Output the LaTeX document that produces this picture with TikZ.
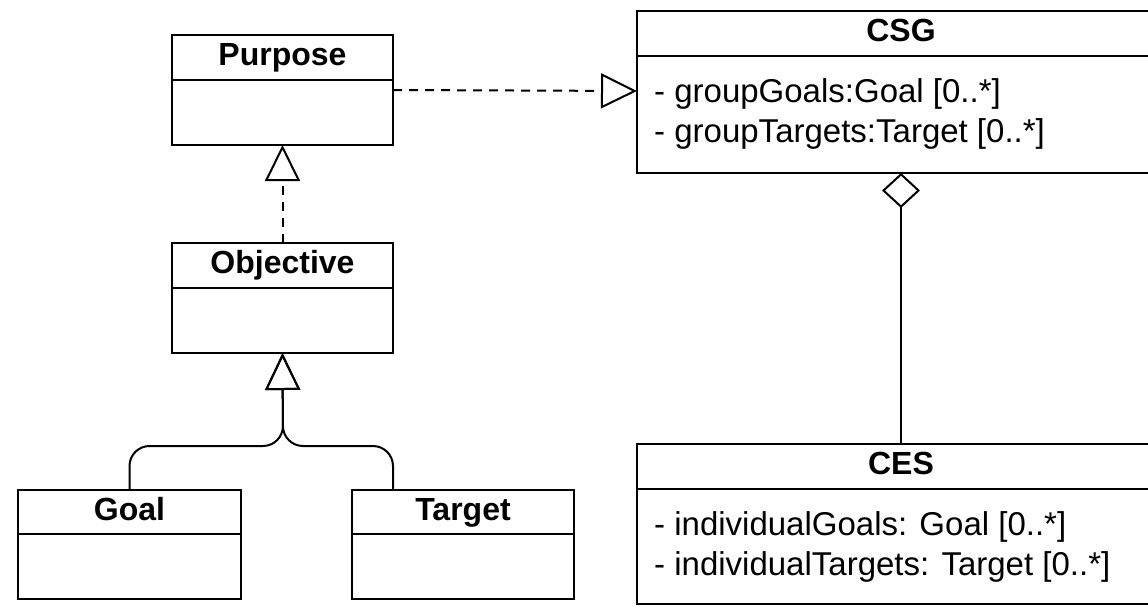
\documentclass[tikz,border=0pt]{standalone}
\usepackage{fontspec}
\setmainfont{Liberation Sans}
\usetikzlibrary{positioning,arrows.meta}

\tikzset{
    classhead/.style = {draw, line width=2pt, anchor=north west, inner sep=0pt, outer sep=0pt, minimum height=45pt,
        font=\fontsize{32}{38}\selectfont\bfseries, text height=23pt, text depth=7pt},
    classbody/.style = {draw, line width=2pt, inner sep=0pt, outer sep=0pt, below=0pt of #1},
    attr/.style = {anchor=base west, inner sep=0pt, font=\fontsize{33}{40}\selectfont},
    realize/.style = {line width=2pt, dash pattern=on 9pt off 7pt, -{Triangle[open, length=36pt, width=35pt]}},
    inherit/.style = {line width=2pt, rounded corners=20pt, -{Triangle[open, length=37pt, width=35pt]}},
    aggregate/.style = {line width=2pt, {Diamond[open, length=35pt, width=38pt]}-},
}

\begin{document}
\begin{tikzpicture}[x = 1pt, y = -1pt]
    \useasboundingbox (0,0) rectangle (1148,606);
    \clip (0,0) rectangle (1148,606);

    % classes on the left
    \node[classhead, minimum width=221pt] (purpose) at (172,35) {Purpose};
    \node[classbody=purpose, minimum width=221pt, minimum height=65pt] (purpose-body) {};
    \node[classhead, minimum width=221pt] (objective) at (172,243) {Objective};
    \node[classbody=objective, minimum width=221pt, minimum height=65pt] (objective-body) {};
    \node[classhead, minimum width=223pt, minimum height=44pt] (goal) at (18,490) {Goal};
    \node[classbody=goal, minimum width=223pt, minimum height=65pt] (goal-body) {};
    \node[classhead, minimum width=222pt, minimum height=44pt] (target) at (352,490) {Target};
    \node[classbody=target, minimum width=222pt, minimum height=65pt] (target-body) {};

    % classes on the right
    \node[classhead, minimum width=528pt] (csg) at (637,11) {CSG};
    \node[classbody=csg, minimum width=528pt, minimum height=117pt] (csg-body) {};
    \node[attr] (csg-attr1) at ([xshift=17pt, yshift=-46pt]csg-body.north west) {- groupGoals:Goal [0..*]};
    \node[attr] (csg-attr2) at ([xshift=17pt, yshift=-86pt]csg-body.north west) {- groupTargets:Target [0..*]};
    \node[classhead, minimum width=528pt] (ces) at (637,444) {CES};
    \node[classbody=ces, minimum width=528pt, minimum height=115pt] (ces-body) {};
    \node[attr] (ces-attr1) at ([xshift=17pt, yshift=-46pt]ces-body.north west) {- individualGoals: Goal [0..*]};
    \node[attr] (ces-attr2) at ([xshift=17pt, yshift=-86pt]ces-body.north west) {- individualTargets: Target [0..*]};

    % relations
    \draw[realize] ([yshift=-10pt]purpose-body.north east) -- ([yshift=-35pt]csg-body.north west);
    \draw[realize] (objective.north) -- (purpose-body.south);
    \coordinate (fork) at (283,446);
    \draw[inherit] (goal.north) |- (fork) -- (objective-body.south);
    \draw[inherit] (objective-body.east |- target.north) |- (fork) -- (objective-body.south);
    \draw[aggregate] (csg-body.south) -- (ces.north);
\end{tikzpicture}
\end{document}
